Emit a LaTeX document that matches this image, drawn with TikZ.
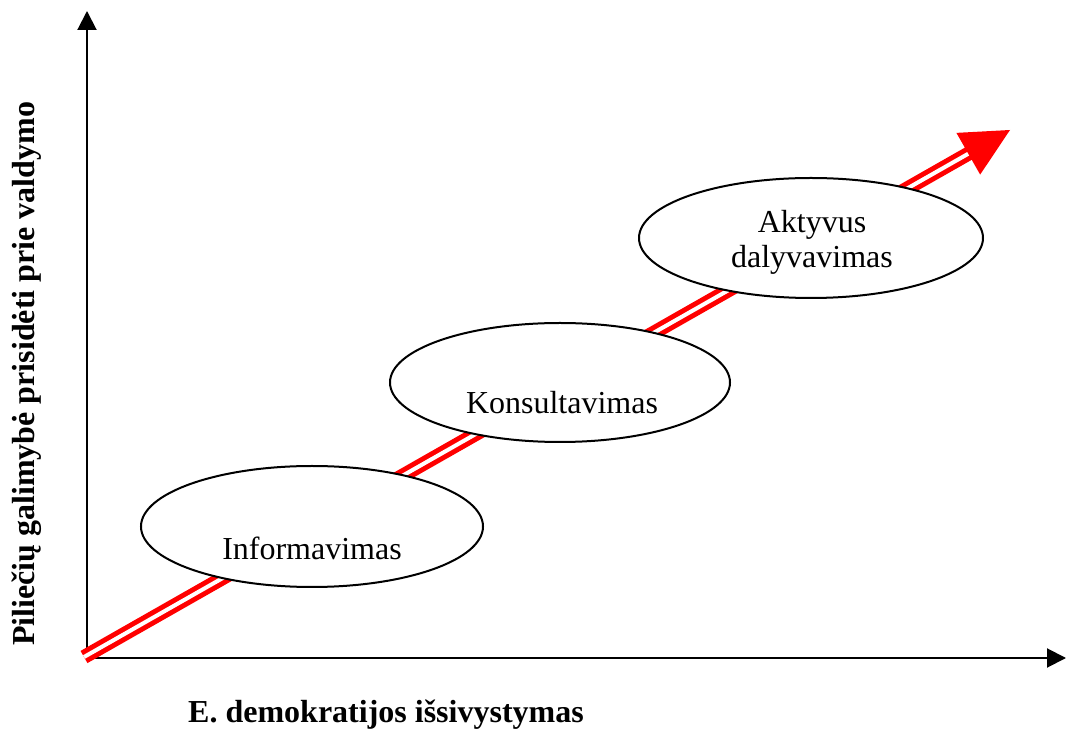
\documentclass[tikz,border=0pt]{standalone}
\usepackage{fontspec}
\setmainfont{Liberation Serif}
\usetikzlibrary{shapes.geometric,arrows.meta,calc}
\tikzset{
  stage/.style={ellipse,draw=black,line width=1pt,fill=white,inner sep=0pt},
  stagetext/.style={font=\fontsize{16}{19}\selectfont,align=center,inner sep=0pt},
  axislabel/.style={font=\fontsize{16}{19}\selectfont\bfseries,inner sep=0pt},
  axis/.style={line width=1pt,-{Triangle[length=9.5pt,width=9.5pt]}},
  progress/.style={draw=red,double=white,line width=2.5pt,double distance=2pt}
}
\begin{document}
\begin{tikzpicture}[x=0.5pt,y=-0.5pt]
\useasboundingbox (0,0) rectangle (1066,731);
% axes
\coordinate (O) at (87,658);
\coordinate (Ytop) at (87,11);
\coordinate (Xend) at (1066,658);
\draw[axis] (O) -- (Ytop);
\draw[axis] (O) -- (Xend);
% red progress arrow
\coordinate (S) at (84,657);
\coordinate (T) at (1010,130);
\coordinate (B) at ($(T)!24pt!(S)$);
\draw[progress] (S) -- ($(T)!22pt!(S)$);
\fill[red] (T) -- ($(B)!12pt!90:(T)$) -- ($(B)!12pt!-90:(T)$) -- cycle;
% stages
\node[stage,minimum width=171pt,minimum height=60.5pt] (e1) at (312,526.5) {};
\node[stagetext] (t1) at (312,548) {Informavimas};
\node[stage,minimum width=170pt,minimum height=59.5pt] (e2) at (560,382.5) {};
\node[stagetext] (t2) at (562,403) {Konsultavimas};
\node[stage,minimum width=172pt,minimum height=60pt] (e3) at (811,238) {};
\node[stagetext] (t3a) at (812,225) {Aktyvus};
\node[stagetext] (t3b) at (812,260) {dalyvavimas};
% axis labels
\node[axislabel,rotate=90] (ylab) at (27,374) {Piliečių galimybė prisidėti prie valdymo};
\node[axislabel] (xlab) at (386,715) {E. demokratijos išsivystymas};
\end{tikzpicture}
\end{document}
